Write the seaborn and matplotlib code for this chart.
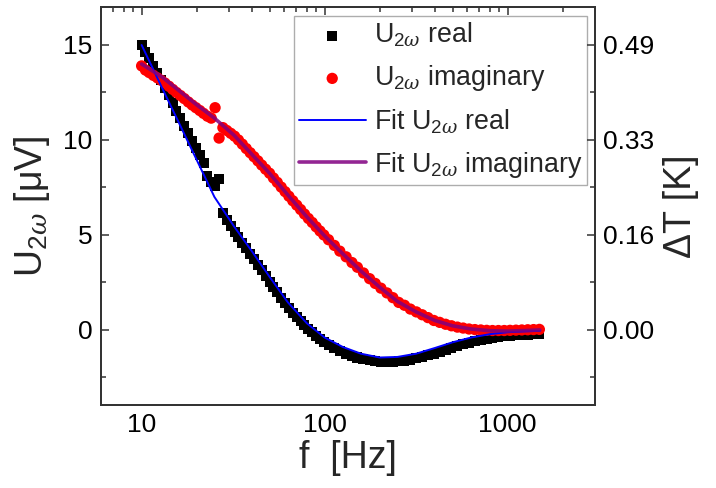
import numpy as np
import pandas as pd
import matplotlib
matplotlib.use("Agg")
import matplotlib.pyplot as plt
from matplotlib.ticker import LogLocator, MultipleLocator, NullFormatter
import seaborn as sns

# ---- data ----
freq = [10, 10.5, 11.0, 11.6, 12.2, 12.8, 13.4, 14.1, 14.8, 15.5, 16.3, 17.1,
        18.0, 18.9, 19.8, 20.8, 21.8, 22.9, 24.0, 25.2, 26.5, 27.8, 29.2, 30.7,
        32.2, 33.8, 35.5, 37.3, 39.2, 41.1, 43.2, 45.3, 47.6, 50.0, 52.5, 55.1,
        57.9, 60.8, 63.8, 67.0, 70.4, 73.9, 77.6, 81.5, 85.5, 89.8, 94.3, 99.0,
        105, 113, 121, 131, 141, 151, 163, 176, 189, 203, 219, 236, 254, 273,
        294, 317, 341, 367, 395, 425, 458, 493, 531, 571, 615, 662, 713, 768,
        826, 890, 958, 1030, 1110, 1195, 1287, 1385, 1490]
u_real = [15.0, 14.65, 14.3, 13.9, 13.5, 13.15, 12.75, 12.35, 11.95, 11.55,
          11.15, 10.75, 10.35, 9.95, 9.6, 9.2, 8.8, 8.1, 7.8, 7.6, 7.95, 6.15,
          5.8, 5.45, 5.15, 4.88, 4.6, 4.3, 4.0, 3.73, 3.43, 3.15, 2.85, 2.55,
          2.27, 1.98, 1.7, 1.4, 1.13, 0.9, 0.68, 0.46, 0.24, 0.03, -0.13, -0.3,
          -0.47, -0.63, -0.8, -0.95, -1.1, -1.25, -1.35, -1.45, -1.55, -1.6,
          -1.65, -1.68, -1.68, -1.67, -1.65, -1.62, -1.56, -1.5, -1.42, -1.33,
          -1.24, -1.14, -1.04, -0.94, -0.85, -0.76, -0.68, -0.6, -0.53, -0.47,
          -0.42, -0.38, -0.34, -0.31, -0.29, -0.27, -0.25, -0.23, -0.22]
u_imag = [13.9, 13.68, 13.55, 13.4, 13.27, 13.14, 13.0, 12.83, 12.66, 12.5,
          12.34, 12.18, 12.0, 11.84, 11.7, 11.55, 11.4, 11.25, 11.15, 11.7,
          10.1, 10.65, 10.5, 10.35, 10.2, 10.0, 9.78, 9.55, 9.33, 9.12, 8.9,
          8.68, 8.46, 8.25, 8.0, 7.77, 7.52, 7.28, 7.04, 6.8, 6.57, 6.34, 6.1,
          5.87, 5.66, 5.43, 5.21, 5.0, 4.75, 4.45, 4.15, 3.85, 3.55, 3.3, 3.0,
          2.7, 2.45, 2.2, 1.95, 1.7, 1.45, 1.3, 1.1, 0.95, 0.8, 0.65, 0.5, 0.4,
          0.3, 0.22, 0.15, 0.1, 0.05, 0.02, 0.0, -0.02, -0.03, -0.03, -0.03,
          -0.02, -0.01, 0.0, 0.01, 0.02, 0.03]

fit_freq = [10, 13, 16, 20, 25, 32, 40, 50, 63, 80, 100, 126, 158, 200, 250,
            316, 400, 500, 630, 800, 1000, 1260, 1500]
fit_real = [15.0, 12.7, 10.9, 8.95, 7.0, 5.45, 4.15, 2.8, 1.45, 0.35, -0.4,
            -0.9, -1.25, -1.45, -1.42, -1.25, -0.95, -0.65, -0.4, -0.22, -0.12,
            -0.07, -0.05]
fit_imag = [14.0, 13.3, 12.6, 11.85, 11.15, 10.25, 9.25, 8.25, 7.1, 5.95, 4.95,
            4.0, 3.1, 2.25, 1.5, 0.95, 0.5, 0.22, 0.05, -0.04, -0.06, -0.03, 0.0]

xticks = [10, 100, 1000]
xtick_labels = ["10", "100", "1000"]
yticks = [0, 5, 10, 15]
ytick_labels = ["0", "5", "10", "15"]
dt_tick_labels = ["0.00", "0.16", "0.33", "0.49"]

labels = [r"U$_{2\omega}$ real", r"U$_{2\omega}$ imaginary",
          r"Fit U$_{2\omega}$ real", r"Fit U$_{2\omega}$ imaginary"]

# ---- style ----
sns.set_style("white")
plt.rcParams["font.family"] = ["Liberation Sans", "DejaVu Sans"]
plt.rcParams["mathtext.fontset"] = "custom"
plt.rcParams["mathtext.rm"] = "Liberation Sans"
plt.rcParams["mathtext.it"] = "DejaVu Serif:italic"
plt.rcParams["mathtext.bf"] = "Liberation Sans:bold"

data = pd.DataFrame({"f": freq, "real": u_real, "imag": u_imag})
fits = pd.DataFrame({"f": fit_freq, "real": fit_real, "imag": fit_imag})

fig = plt.figure(figsize=(7.16, 4.88), dpi=100)
ax = fig.add_axes([101 / 716, 1 - 405 / 488, 494 / 716, 398 / 488])

sns.scatterplot(data=data, x="f", y="real", ax=ax, marker="s", s=52,
                color="black", edgecolor="none", label=labels[0], zorder=2)
sns.scatterplot(data=data, x="f", y="imag", ax=ax, marker="o", s=66,
                color="#ff0000", edgecolor="none", label=labels[1], zorder=2)
sns.lineplot(data=fits, x="f", y="real", ax=ax, color="#0000ff", lw=1.4,
             sort=False, estimator=None, label=labels[2], zorder=3)
sns.lineplot(data=fits, x="f", y="imag", ax=ax, color="#800080", lw=2.6,
             alpha=0.85, sort=False, estimator=None, label=labels[3], zorder=3)

ax.set_xscale("log")
ax.set_xlim(6, 3000)
ax.set_ylim(-3.95, 17.0)
ax.set_xticks(xticks)
ax.set_xticklabels(xtick_labels)
ax.xaxis.set_minor_locator(LogLocator(base=10, subs=np.arange(2, 10)))
ax.xaxis.set_minor_formatter(NullFormatter())
ax.set_yticks(yticks)
ax.set_yticklabels(ytick_labels)
ax.yaxis.set_minor_locator(MultipleLocator(2.5))

spine_c = "#333333"
for sp in ax.spines.values():
    sp.set_color(spine_c)
    sp.set_linewidth(1.3)
ax.tick_params(which="both", direction="in", top=True, right=False,
               colors=spine_c, labelcolor="black", labelsize=19, width=1.1)
ax.tick_params(which="major", length=6, pad=6)
ax.tick_params(which="minor", length=3.5)

ax.set_xlabel("f  [Hz]", fontsize=27, labelpad=2)
ax.set_ylabel(r"U$_{2\omega}$ [μV]", fontsize=27, labelpad=8)

ax2 = ax.twinx()
ax2.set_ylim(ax.get_ylim())
ax2.set_yticks(yticks)
ax2.set_yticklabels(dt_tick_labels)
ax2.yaxis.set_minor_locator(MultipleLocator(2.5))
ax2.tick_params(which="both", direction="in", colors=spine_c,
                labelcolor="black", labelsize=19, width=1.1)
ax2.tick_params(which="major", length=6, pad=6)
ax2.tick_params(which="minor", length=3.5)
for sp in ax2.spines.values():
    sp.set_color(spine_c)
    sp.set_linewidth(1.3)
ax2.set_ylabel("ΔT [K]", fontsize=27, labelpad=6)

leg = ax.legend(loc="upper right", bbox_to_anchor=(0.984, 0.977),
                borderaxespad=0, fontsize=19.3, frameon=True, fancybox=False,
                handlelength=2.5, handletextpad=0.3, labelspacing=0.52,
                borderpad=0.18, edgecolor="#999999", markerscale=1.0)
leg.get_frame().set_linewidth(1.0)

fig.savefig("out.png", dpi=100)
